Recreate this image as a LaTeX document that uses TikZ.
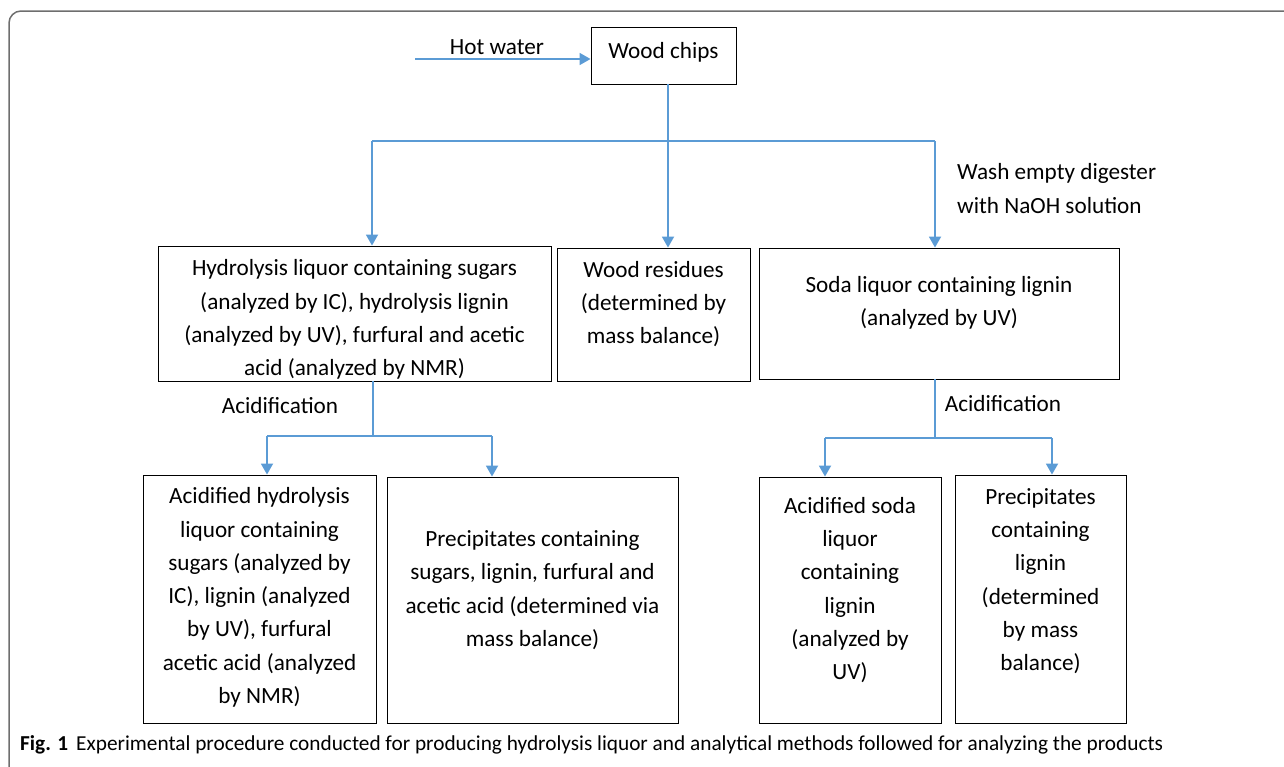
\documentclass[tikz,border=0pt]{standalone}
\usepackage{fontspec}
\setmainfont{Carlito}
\usetikzlibrary{arrows.meta}
\definecolor{flowblue}{RGB}{91,155,213}
\definecolor{framegray}{RGB}{110,110,110}
\tikzset{
  box/.style={draw=black, line width=0.9pt, inner sep=0pt},
  txt/.style={font=\fontsize{23.2}{33.3}\selectfont, align=center, inner sep=0pt},
  flow/.style={draw=flowblue, line width=1.8pt},
  thinflow/.style={draw=flowblue, line width=1.1pt},
  arr/.style={flow, -{Triangle[width=12pt,length=11pt]}},
}
\begin{document}
\begin{tikzpicture}[x=1pt,y=-1pt]
\useasboundingbox (0,0) rectangle (1284,766);
\draw[framegray, line width=1.5pt, rounded corners=12pt] (9,11) rectangle (1310,785);

% boxes
\node[box, minimum width=145pt, minimum height=57pt] (wood) at (663.5,55.5) {};
\node[txt] at (663.5,52) {Wood chips};
\node[box, minimum width=393pt, minimum height=135pt] (b1) at (354.5,313.5) {};
\node[txt] at (354.5,319.5) {Hydrolysis liquor containing sugars\\(analyzed by IC), hydrolysis lignin\\(analyzed by UV), furfural and acetic\\acid (analyzed by NMR)};
\node[box, minimum width=193pt, minimum height=133pt] (b2) at (653.5,314.5) {};
\node[txt] at (653.5,304) {Wood residues\\(determined by\\mass balance)};
\node[box, minimum width=360pt, minimum height=131pt] (b3) at (939,313.5) {};
\node[txt] at (939,302.5) {Soda liquor containing lignin\\(analyzed by UV)};
\node[box, minimum width=233pt, minimum height=248pt] (b4) at (259.5,599) {};
\node[txt] at (259.5,597.5) {Acidified hydrolysis\\liquor containing\\sugars (analyzed by\\IC), lignin (analyzed\\by UV), furfural\\acetic acid (analyzed\\by NMR)};
\node[box, minimum width=291pt, minimum height=246pt] (b5) at (532.5,600) {};
\node[txt] at (532.5,590) {Precipitates containing\\sugars, lignin, furfural and\\acetic acid (determined via\\mass balance)};
\node[box, minimum width=182pt, minimum height=246pt] (b6) at (850,600) {};
\node[txt] at (850,590) {Acidified soda\\liquor\\containing\\lignin\\(analyzed by\\UV)};
\node[box, minimum width=171pt, minimum height=248pt] (b7) at (1040.5,599) {};
\node[txt] at (1040.5,581) {Precipitates\\containing\\lignin\\(determined\\by mass\\balance)};

% labels
\node[txt] (hw) at (497,47) {Hot water};
\node[txt, align=left, anchor=west] (wash) at (957,188.5) {Wash empty digester\\with NaOH solution};
\node[txt] (acl) at (280,406) {Acidification};
\node[txt] (acr) at (1003,404) {Acidification};

% connectors
\coordinate (hwstart) at (415,59);
\draw[arr] (hwstart) -- (hwstart -| wood.west);
\coordinate (jL) at (372,141);
\coordinate (jR) at (935,141);
\coordinate (jM) at (668,141);
\draw[arr] (wood.south -| jM) -- (b2.north -| jM);
\draw[thinflow] (jL) -- (jR);
\draw[arr] (jL) -- (b1.north -| jL);
\draw[arr] (jR) -- (b3.north -| jR);

\coordinate (aL) at (373,436);
\coordinate (aL1) at (267,436);
\coordinate (aL2) at (492,436);
\draw[thinflow] (b1.south -| aL) -- (aL);
\draw[thinflow] (aL1) -- (aL2);
\draw[arr] (aL1) -- (b4.north -| aL1);
\draw[arr] (aL2) -- (b5.north -| aL2);

\coordinate (aR) at (935,438);
\coordinate (aR1) at (825,438);
\coordinate (aR2) at (1052,438);
\draw[thinflow] (b3.south -| aR) -- (aR);
\draw[thinflow] (aR1) -- (aR2);
\draw[arr] (aR1) -- (b6.north -| aR1);
\draw[arr] (aR2) -- (b7.north -| aR2);

% caption
\node[anchor=west, inner sep=0pt, font=\fontsize{21.3}{25}\selectfont] (cap) at (20,745) {\textbf{Fig. 1}\hspace{8pt}Experimental procedure conducted for producing hydrolysis liquor and analytical methods followed for analyzing the products};
\end{tikzpicture}
\end{document}
